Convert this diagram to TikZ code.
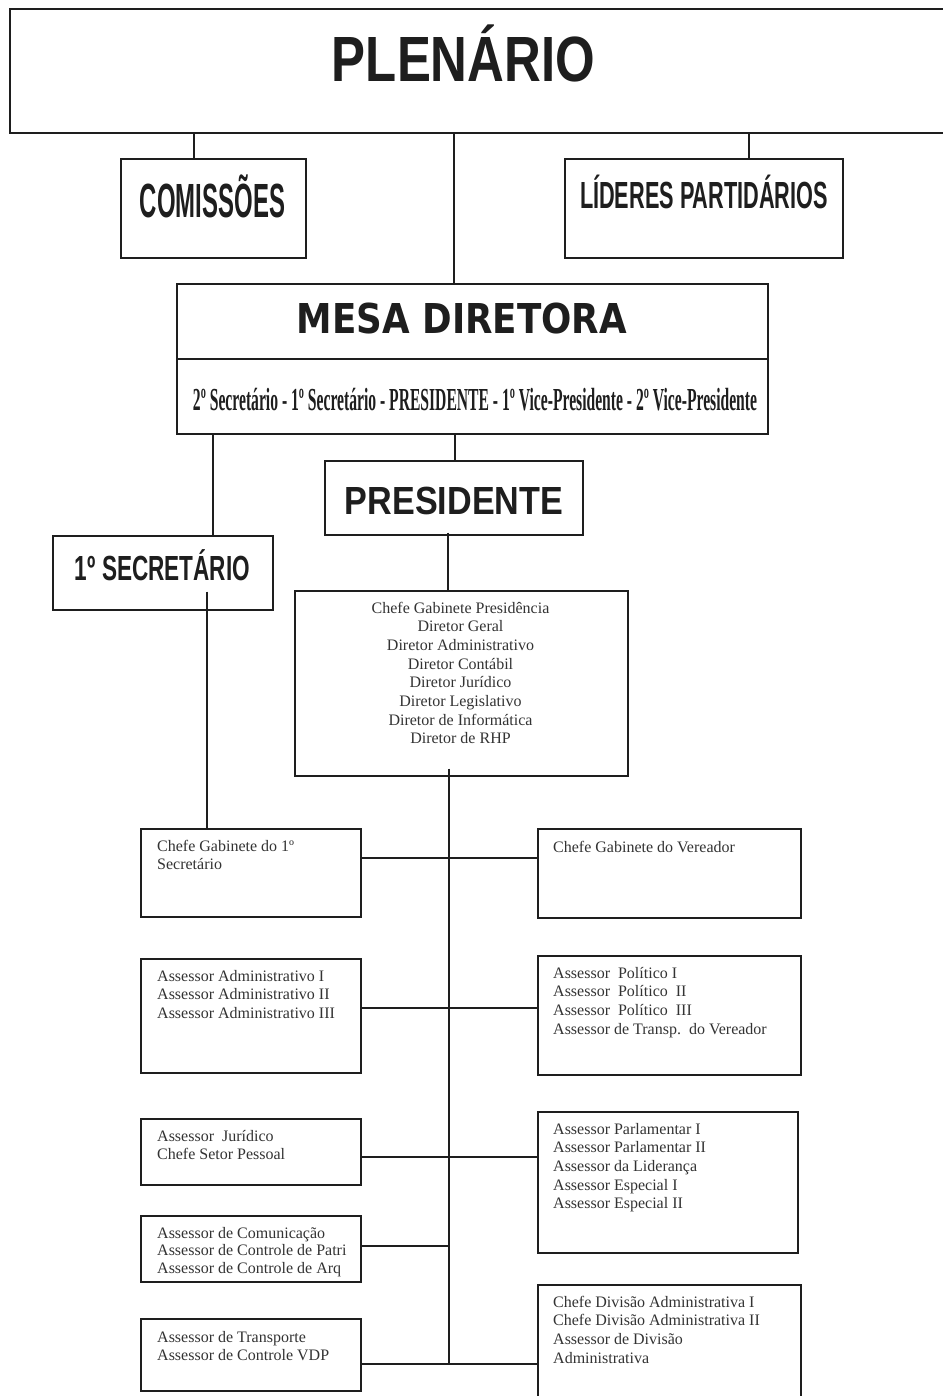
\documentclass[tikz,border=0pt]{standalone}
\usepackage{fontspec}
\usepackage{graphicx}
\setmainfont{Liberation Serif}
\newfontfamily\hsans{Liberation Sans}
\newfontfamily\hverd{DejaVu Sans}
\newcommand{\fitcap}[3]{\resizebox{#1}{#2}{\raisebox{0pt}[\fontcharht\font`X][0pt]{#3}}}
\newcommand{\blines}[2]{\parbox[t]{#1}{\fontsize{16pt}{18.7pt}\selectfont\raggedright #2}}
\newcommand{\clines}[2]{\parbox[t]{#1}{\fontsize{16pt}{18.7pt}\selectfont\centering #2}}
\definecolor{ink}{HTML}{1E1E1E}
\definecolor{txt}{HTML}{333333}
\begin{document}
\begin{tikzpicture}[x=1pt,y=-1pt,
  orgbox/.style={draw=ink,line width=1.6pt,rectangle,inner sep=0pt,anchor=north west},
  conn/.style={draw=ink,line width=1.4pt},
  head/.style={inner sep=0pt,anchor=base,text=ink},
  lbl/.style={inner sep=0pt,anchor=base west,text=txt},
  clbl/.style={inner sep=0pt,anchor=base,text=txt}]
\useasboundingbox (0,0) rectangle (942,1396);
\fill[white] (0,0) rectangle (942,1396);

% boxes
\node[orgbox,minimum width=951pt,minimum height=124pt] (plen) at (9,8) {};
\node[orgbox,minimum width=185pt,minimum height=99pt] (com) at (120,158) {};
\node[orgbox,minimum width=278pt,minimum height=99pt] (lid) at (564,158) {};
\node[orgbox,minimum width=591pt,minimum height=150pt] (mesa) at (176,283) {};
\node[orgbox,minimum width=258pt,minimum height=74pt] (pres) at (324,460) {};
\node[orgbox,minimum width=220pt,minimum height=74pt] (sec) at (52,535) {};
\node[orgbox,minimum width=333pt,minimum height=185pt] (dir) at (294,590) {};
\node[orgbox,minimum width=220pt,minimum height=88pt] (L1) at (140,828) {};
\node[orgbox,minimum width=220pt,minimum height=114pt] (L2) at (140,958) {};
\node[orgbox,minimum width=220pt,minimum height=66pt] (L3) at (140,1118) {};
\node[orgbox,minimum width=220pt,minimum height=66pt] (L4) at (140,1215) {};
\node[orgbox,minimum width=220pt,minimum height=72pt] (L5) at (140,1318) {};
\node[orgbox,minimum width=263pt,minimum height=89pt] (R1) at (537,828) {};
\node[orgbox,minimum width=263pt,minimum height=119pt] (R2) at (537,955) {};
\node[orgbox,minimum width=260pt,minimum height=141pt] (R3) at (537,1111) {};
\node[orgbox,minimum width=263pt,minimum height=130pt] (R4) at (537,1284) {};

% mesa divider
\draw[conn,line width=1.6pt] ([yshift=-76pt]mesa.north west) -- ([yshift=-76pt]mesa.north east);

% headings
\node[head] (tplen) at (463.5,82) {\hsans\bfseries\fitcap{263pt}{44pt}{PLENÁRIO}};
\node[head] (tcom) at (212.5,218) {\hsans\bfseries\fitcap{145pt}{33pt}{COMISSÕES}};
\node[head] (tlid) at (704,209) {\hsans\bfseries\fitcap{248pt}{26pt}{LÍDERES PARTIDÁRIOS}};
\node[head] (tmesa) at (462,333) {\hverd\bfseries\fitcap{330pt}{30pt}{MESA DIRETORA}};
\node[head] (trow) at (475,410) {\bfseries\fitcap{564pt}{21pt}{2º Secretário - 1º Secretário - PRESIDENTE - 1º Vice-Presidente - 2º Vice-Presidente}};
\node[head] (tpres) at (454,514) {\hsans\bfseries\fitcap{218pt}{27pt}{PRESIDENTE}};
\node[head] (tsec) at (162.5,580) {\hsans\bfseries\fitcap{175pt}{24pt}{1º SECRETÁRIO}};

% body texts
\node[clbl] (tdir) at (460.5,613) {\clines{320pt}{Chefe Gabinete Presidência\\Diretor Geral\\Diretor Administrativo\\Diretor Contábil\\Diretor Jurídico\\Diretor Legislativo\\Diretor de Informática\\Diretor de RHP}};
\node[lbl] (tL1) at ([xshift=17pt,yshift=-23pt]L1.north west) {\blines{260pt}{Chefe Gabinete do 1º\\Secretário}};
\node[lbl] (tL2) at ([xshift=17pt,yshift=-23pt]L2.north west) {\blines{260pt}{Assessor Administrativo I\\Assessor Administrativo II\\Assessor Administrativo III}};
\node[lbl] (tL3) at ([xshift=17pt,yshift=-23pt]L3.north west) {\blines{260pt}{Assessor\ \ Jurídico\\Chefe Setor Pessoal}};
\node[lbl] (tL4) at ([xshift=17pt,yshift=-23pt]L4.north west) {\parbox[t]{260pt}{\fontsize{16pt}{17.5pt}\selectfont\raggedright Assessor de Comunicação\\Assessor de Controle de Patri\\Assessor de Controle de Arq}};
\node[lbl] (tL5) at ([xshift=17pt,yshift=-24pt]L5.north west) {\blines{260pt}{Assessor de Transporte\\Assessor de Controle VDP}};
\node[lbl] (tR1) at ([xshift=16pt,yshift=-24pt]R1.north west) {\blines{260pt}{Chefe Gabinete do Vereador}};
\node[lbl] (tR2) at ([xshift=16pt,yshift=-23pt]R2.north west) {\blines{260pt}{Assessor\ \ Político I\\Assessor\ \ Político\ \ II\\Assessor\ \ Político\ \ III\\Assessor de Transp.\ \ do Vereador}};
\node[lbl] (tR3) at ([xshift=16pt,yshift=-23pt]R3.north west) {\blines{260pt}{Assessor Parlamentar I\\Assessor Parlamentar II\\Assessor da Liderança\\Assessor Especial I\\Assessor Especial II}};
\node[lbl] (tR4) at ([xshift=16pt,yshift=-23pt]R4.north west) {\blines{260pt}{Chefe Divisão Administrativa I\\Chefe Divisão Administrativa II\\Assessor de Divisão\\Administrativa}};

% connector coordinates
\coordinate (c1) at (194,145);
\coordinate (c2) at (749,145);
\coordinate (c3) at (454,200);
\coordinate (c4) at (213,480);
\coordinate (c5) at (455,450);
\coordinate (c6) at (448,560);
\coordinate (c7) at (207,700);
\coordinate (j1) at (449,858);
\coordinate (j2) at (449,1008);
\coordinate (j3) at (449,1157);
\coordinate (j4) at (449,1246);
\coordinate (j5) at (449,1364);

% connectors
\draw[conn] (plen.south -| c1) -- (com.north -| c1);
\draw[conn] (plen.south -| c2) -- (lid.north -| c2);
\draw[conn] (plen.south -| c3) -- (mesa.north -| c3);
\draw[conn] (mesa.south -| c4) -- (sec.north -| c4);
\draw[conn] (mesa.south -| c5) -- (pres.north -| c5);
\draw[conn] ([yshift=3pt]pres.south -| c6) -- (dir.north -| c6);
\draw[conn] ([yshift=19pt]sec.south -| c7) -- (L1.north -| c7);
\draw[conn] ([yshift=8pt]dir.south -| j1) -- (j5);
\draw[conn] (L1.east |- j1) -- (R1.west |- j1);
\draw[conn] (L2.east |- j2) -- (R2.west |- j2);
\draw[conn] (L3.east |- j3) -- (R3.west |- j3);
\draw[conn] (L4.east |- j4) -- (j4);
\draw[conn] (L5.east |- j5) -- (R4.west |- j5);
\end{tikzpicture}
\end{document}
